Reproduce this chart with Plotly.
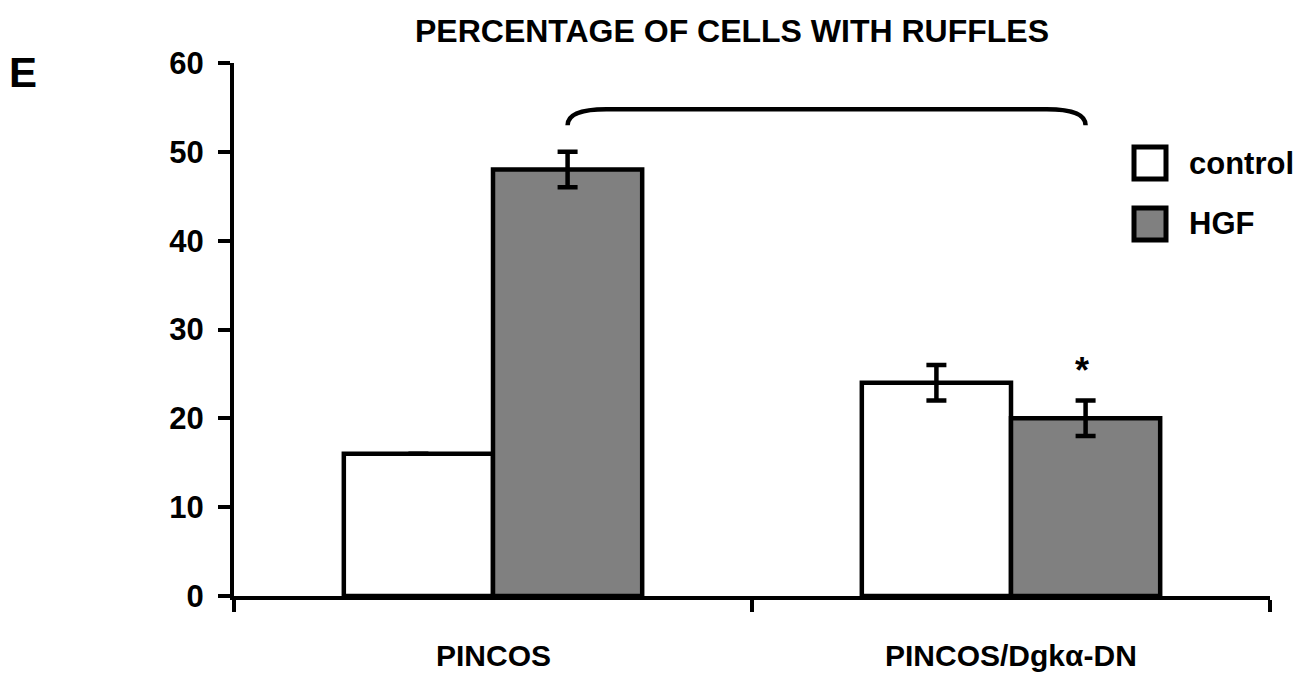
import plotly.graph_objects as go

categories = ["PINCOS", "PINCOS/Dgkα-DN"]
series_names = ["control", "HGF"]
control_vals = [16, 24]
control_err = [0, 2]
hgf_vals = [48, 20]
hgf_err = [2, 2]
y_ticks = [0, 10, 20, 30, 40, 50, 60]
title_text = "PERCENTAGE OF CELLS WITH RUFFLES"
panel_letter = "E"

FONT = "Liberation Sans, Arial, sans-serif"
x_pos = list(range(len(categories)))

# plot area geometry (px)
L, R, T, B = 234, 44, 63, 78
W, H = 1314, 674
PW, PH = W - L - R, H - T - B

def px_x(px):
    return (px - L) / PW

def px_y(py):
    return (H - B - py) / PH

fig = go.Figure()
fig.add_trace(go.Bar(
    x=x_pos, y=control_vals, name=series_names[0], showlegend=False,
    marker=dict(color="white", line=dict(color="black", width=4.5)),
    error_y=dict(type="data", array=control_err, visible=True,
                 color="black", thickness=4.5, width=10),
))
fig.add_trace(go.Bar(
    x=x_pos, y=hgf_vals, name=series_names[1], showlegend=False,
    marker=dict(color="#808080", line=dict(color="black", width=4.5)),
    error_y=dict(type="data", array=hgf_err, visible=True,
                 color="black", thickness=4.5, width=10),
))

bw = (1 - 0.424) / 2
hx0 = x_pos[0] + bw / 2
hx1 = x_pos[1] + bw / 2
top = 54.8
end = 53.0
fig.add_shape(type="path", xref="x", yref="y",
              path=f"M {hx0},{end} Q {hx0},{top} {hx0+0.075},{top} L {hx1-0.075},{top} Q {hx1},{top} {hx1},{end}",
              line=dict(color="black", width=4.5))

fig.add_annotation(x=hx1 - 0.006, y=25.4, xref="x", yref="y", text="*", showarrow=False,
                   xanchor="center", yanchor="middle",
                   font=dict(family=FONT, size=36, color="black", weight="bold"))

# category labels
for xi, lab in zip(x_pos, categories):
    fig.add_annotation(x=xi, y=px_y(674), xref="x", yref="paper", text=lab,
                       showarrow=False, xanchor="center", yanchor="bottom",
                       font=dict(family=FONT, size=30, color="black", weight="bold"))

# custom legend
legend_fill = ["white", "#808080"]
legend_cy = [163, 224]
for name, fill, cy in zip(series_names, legend_fill, legend_cy):
    fig.add_shape(type="rect", xref="paper", yref="paper",
                  x0=px_x(1134), x1=px_x(1166), y0=px_y(cy + 16), y1=px_y(cy - 16),
                  fillcolor=fill, line=dict(color="black", width=5))
    fig.add_annotation(x=px_x(1187), y=px_y(cy), xref="paper", yref="paper",
                       text=name, showarrow=False, xanchor="left", yanchor="middle",
                       font=dict(family=FONT, size=31, color="black", weight="bold"))

fig.add_annotation(x=px_x(23), y=px_y(72), xref="paper", yref="paper", text=panel_letter,
                   showarrow=False, xanchor="center", yanchor="middle",
                   font=dict(family=FONT, size=42, color="black", weight="bold"))

fig.update_layout(
    width=W, height=H,
    margin=dict(l=L, r=R, t=T, b=B),
    paper_bgcolor="white", plot_bgcolor="white",
    barmode="group", bargap=0.424, bargroupgap=0,
    title=dict(text=title_text, x=732 / W, xref="container", xanchor="center",
               y=1 - 31 / H, yref="container", yanchor="middle",
               font=dict(family=FONT, size=32, color="black", weight="bold")),
    xaxis=dict(range=[-0.5, 1.5], tickvals=[-0.5, 0.5, 1.5], showticklabels=False,
               ticks="outside", ticklen=12, tickwidth=4, tickcolor="black",
               showline=True, linewidth=4, linecolor="black", showgrid=False, zeroline=False),
    yaxis=dict(range=[0, 60], tickvals=y_ticks, ticks="outside", ticklen=12, tickwidth=4,
               tickcolor="black", showline=True, linewidth=4, linecolor="black",
               showgrid=False, zeroline=False, ticklabelstandoff=8,
               tickfont=dict(family=FONT, size=31, color="black", weight="bold")),
)

fig.write_html("out.html", config={"displayModeBar": False},
               post_script="document.body.style.margin='0';document.body.style.overflow='hidden';")
